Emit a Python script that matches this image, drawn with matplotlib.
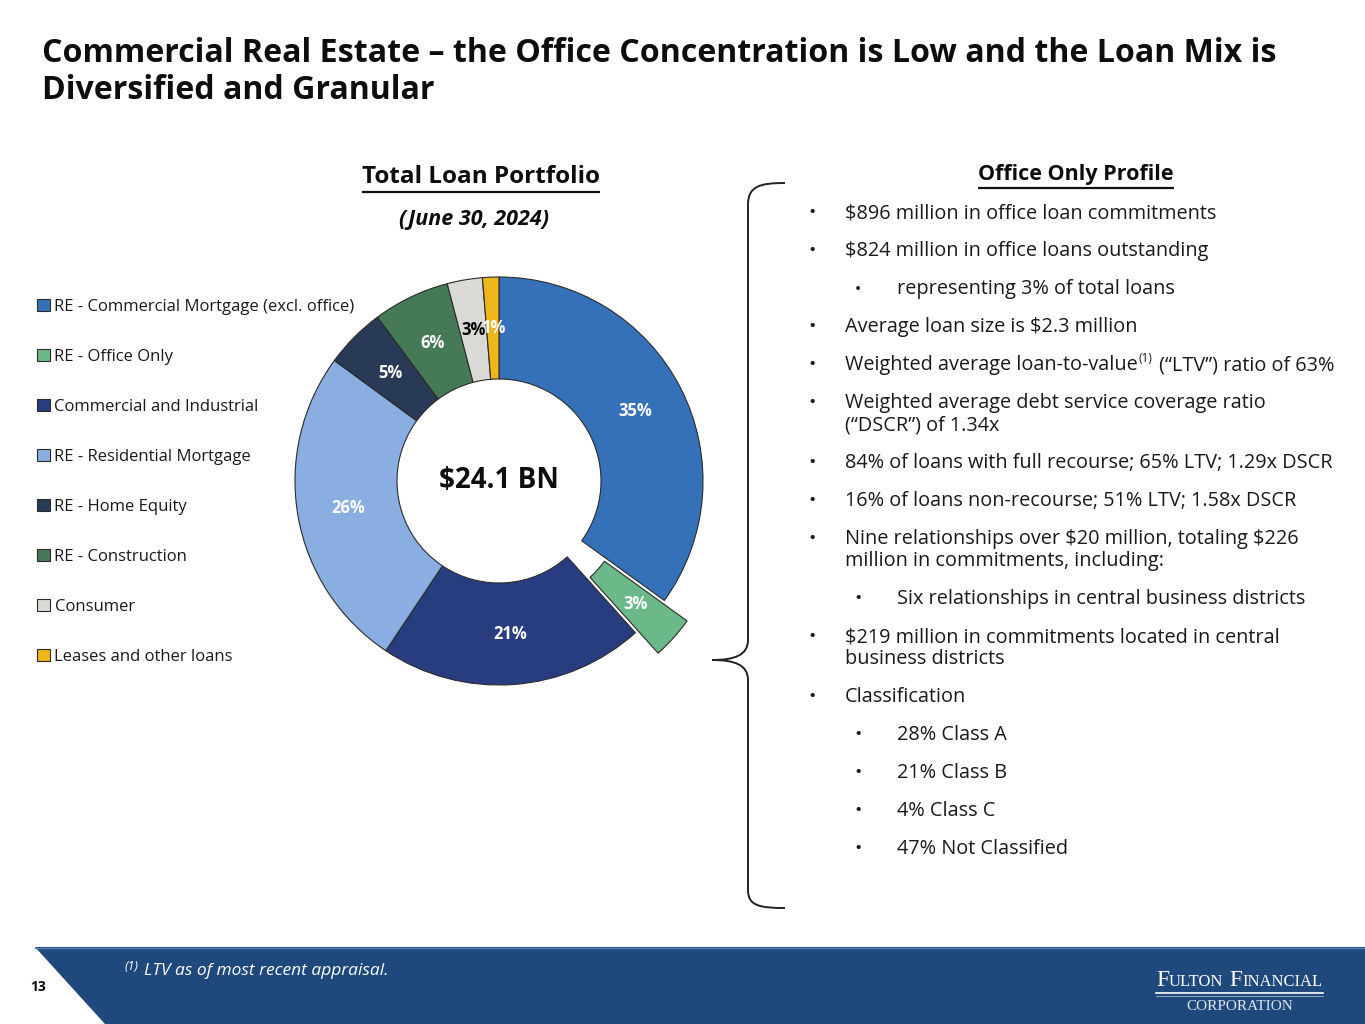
import matplotlib
matplotlib.use("Agg")
import matplotlib.pyplot as plt
from matplotlib.path import Path
from matplotlib.patches import PathPatch, Polygon

W, H = 1365, 1024
FONT = "Open Sans"

# ---- chart data ----
categories = [
    "RE - Commercial Mortgage (excl. office)",
    "RE - Office Only",
    "Commercial and Industrial",
    "RE - Residential Mortgage",
    "RE - Home Equity",
    "RE - Construction",
    "Consumer",
    "Leases and other loans",
]
shares = [35.1, 3.4, 21.1, 25.8, 4.8, 6.1, 2.8, 1.3]
colors = ["#3571b9", "#6bb988", "#283c80", "#8aaee1",
          "#283a55", "#467a57", "#d9d9d5", "#efb61b"]
pct_colors = ["white", "white", "white", "white", "white", "white", "black", "white"]
explode = [0, 0.15, 0, 0, 0, 0, 0, 0]
total_label = "$24.1 BN"

title_lines = ["Commercial Real Estate \u2013 the Office Concentration is Low and the Loan Mix is",
               "Diversified and Granular"]
chart_title = "Total Loan Portfolio"
chart_date = "(June 30, 2024)"
profile_title = "Office Only Profile"

# (level, lines) ; "^" marks the footnote reference
profile_bullets = [
    (0, ["$896 million in office loan commitments"]),
    (0, ["$824 million in office loans outstanding"]),
    (2, ["representing 3% of total loans"]),
    (0, ["Average loan size is $2.3 million"]),
    (0, ["Weighted average loan-to-value^ (\u201cLTV\u201d) ratio of 63%"]),
    (0, ["Weighted average debt service coverage ratio", "(\u201cDSCR\u201d) of 1.34x"]),
    (0, ["84% of loans with full recourse; 65% LTV; 1.29x DSCR"]),
    (0, ["16% of loans non-recourse; 51% LTV; 1.58x DSCR"]),
    (0, ["Nine relationships over $20 million, totaling $226",
         "million in commitments, including:"]),
    (1, ["Six relationships in central business districts"]),
    (0, ["$219 million in commitments located in central", "business districts"]),
    (0, ["Classification"]),
    (1, ["28% Class A"]),
    (1, ["21% Class B"]),
    (1, ["4% Class C"]),
    (1, ["47% Not Classified"]),
]
footnote = "LTV as of most recent appraisal."
page_number = "13"

fig = plt.figure(figsize=(W / 100, H / 100), dpi=100)
bg = fig.add_axes([0, 0, 1, 1])
bg.set_xlim(0, W)
bg.set_ylim(H, 0)
bg.axis("off")
renderer = fig.canvas.get_renderer()


def put(x, y, s, **kw):
    kw.setdefault("family", FONT)
    kw.setdefault("color", "#1a1a1a")
    return bg.text(x, y, s, parse_math=False, **kw)


def width_of(t):
    return t.get_window_extent(renderer=renderer).width


def underline(t, gap=3, lw=1.6):
    bb = t.get_window_extent(renderer=renderer)
    y = H - bb.y0 + gap
    bg.plot([bb.x0, bb.x1], [y, y], color="#111111", lw=lw, solid_capstyle="butt")


# title
for i, line in enumerate(title_lines):
    put(42, 62 + i * 37, line, fontsize=23.1, fontweight="bold", color="#0d0d0d",
        va="baseline", ha="left")

# chart headings
t = put(481, 183, chart_title, fontsize=17.5, fontweight="bold", color="#0d0d0d",
        ha="center", va="baseline")
underline(t)
put(474, 225, chart_date, fontsize=15.5, fontweight="bold", style="italic",
    color="#0d0d0d", ha="center", va="baseline")

# donut
R = 204
cx, cy = 499, 481
span = 1.5
pax = fig.add_axes([(cx - span * R) / W, (H - cy - span * R) / H,
                    2 * span * R / W, 2 * span * R / H])
pax.set_facecolor("none")
wedges, texts, autotexts = pax.pie(
    shares, colors=colors, explode=explode, startangle=90, counterclock=False,
    radius=1.0, autopct=lambda p: f"{p:.0f}%", pctdistance=0.75,
    wedgeprops=dict(width=0.5, edgecolor="#2b2b2b", linewidth=0.8),
    textprops=dict(family=FONT, fontweight="bold", fontsize=12))
for at, c in zip(autotexts, pct_colors):
    at.set_color(c)
pax.set_xlim(-span, span)
pax.set_ylim(-span, span)
pax.set_aspect("equal")
pax.axis("off")
pax.text(0, 0, total_label, fontsize=20, fontweight="bold", family=FONT,
         color="#0d0d0d", ha="center", va="center", parse_math=False)

# legend
leg = fig.legend(wedges, categories, loc="upper left",
                 bbox_to_anchor=(22 / W, 1 - 284 / H), frameon=False,
                 prop=dict(family=FONT, size=12), labelspacing=2.04,
                 handlelength=0.75, handleheight=0.75, handletextpad=0.3)
for txt in leg.get_texts():
    txt.set_color("#1a1a1a")

# profile section
t = put(1076, 180, profile_title, fontsize=15.5, fontweight="bold", color="#0d0d0d",
        ha="center", va="baseline")
underline(t)

y = 213
for level, lines in profile_bullets:
    bx = 812 if level == 0 else 858
    tx = 845 if level == 0 else 897
    if level == 2:
        put(bx, y + 1, "\u00b7", fontsize=15, ha="center", va="center", fontweight="bold")
    else:
        put(bx, y, "\u2022", fontsize=14, ha="center", va="center")
    for j, line in enumerate(lines):
        ly = y + j * 22
        if "^" in line:
            a, b = line.split("^")
            t1 = put(tx, ly, a, fontsize=14.3, ha="left", va="center")
            x2 = tx + width_of(t1) + 1
            t2 = put(x2, ly - 6, "(1)", fontsize=8.5, ha="left", va="center")
            put(x2 + width_of(t2) + 1, ly, b, fontsize=14.3, ha="left", va="center")
        else:
            put(tx, ly, line, fontsize=14.3, ha="left", va="center")
    y += 38 + 22 * (len(lines) - 1)

# brace
verts = [(785, 183), (760, 183), (748, 186), (748, 205),
         (748, 640),
         (748, 655), (735, 660), (712, 660),
         (735, 660), (748, 665), (748, 680),
         (748, 890),
         (748, 906), (760, 908), (785, 908)]
codes = [Path.MOVETO, Path.CURVE4, Path.CURVE4, Path.CURVE4,
         Path.LINETO,
         Path.CURVE4, Path.CURVE4, Path.CURVE4,
         Path.CURVE4, Path.CURVE4, Path.CURVE4,
         Path.LINETO,
         Path.CURVE4, Path.CURVE4, Path.CURVE4]
bg.add_patch(PathPatch(Path(verts, codes), facecolor="none", edgecolor="#222222", lw=1.4))

# footer band
bg.add_patch(Polygon([(35, 947), (W, 947), (W, H), (105, H)], closed=True,
                     facecolor="#1f497d", edgecolor="none"))
bg.plot([35, W], [947.5, 947.5], color="#5b7fae", lw=1)
put(38, 987, page_number, fontsize=10, fontweight="bold", color="#0d0d0d",
    ha="center", va="center")
t = put(125, 966, "(1)", fontsize=9, style="italic", color="white", ha="left", va="center")
put(125 + width_of(t) + 5, 971, footnote, fontsize=12.5, style="italic",
    color="white", ha="left", va="center")

# logo text
x = 1156
for s, size in [("F", 17), ("ULTON", 12), (" F", 17), ("INANCIAL", 12)]:
    t = put(x, 986, s, fontsize=size, family="Liberation Serif", color="white",
            ha="left", va="baseline")
    x += width_of(t)
bg.plot([1156, x], [993, 993], color="white", lw=1.2)
bg.plot([1156, x], [996, 996], color="#9fb4d0", lw=0.6)
put((1156 + x) / 2, 1006, "CORPORATION", fontsize=11, family="Liberation Serif",
    color="#dfe6f0", ha="center", va="center")

fig.savefig("out.png", dpi=100, facecolor="white")
